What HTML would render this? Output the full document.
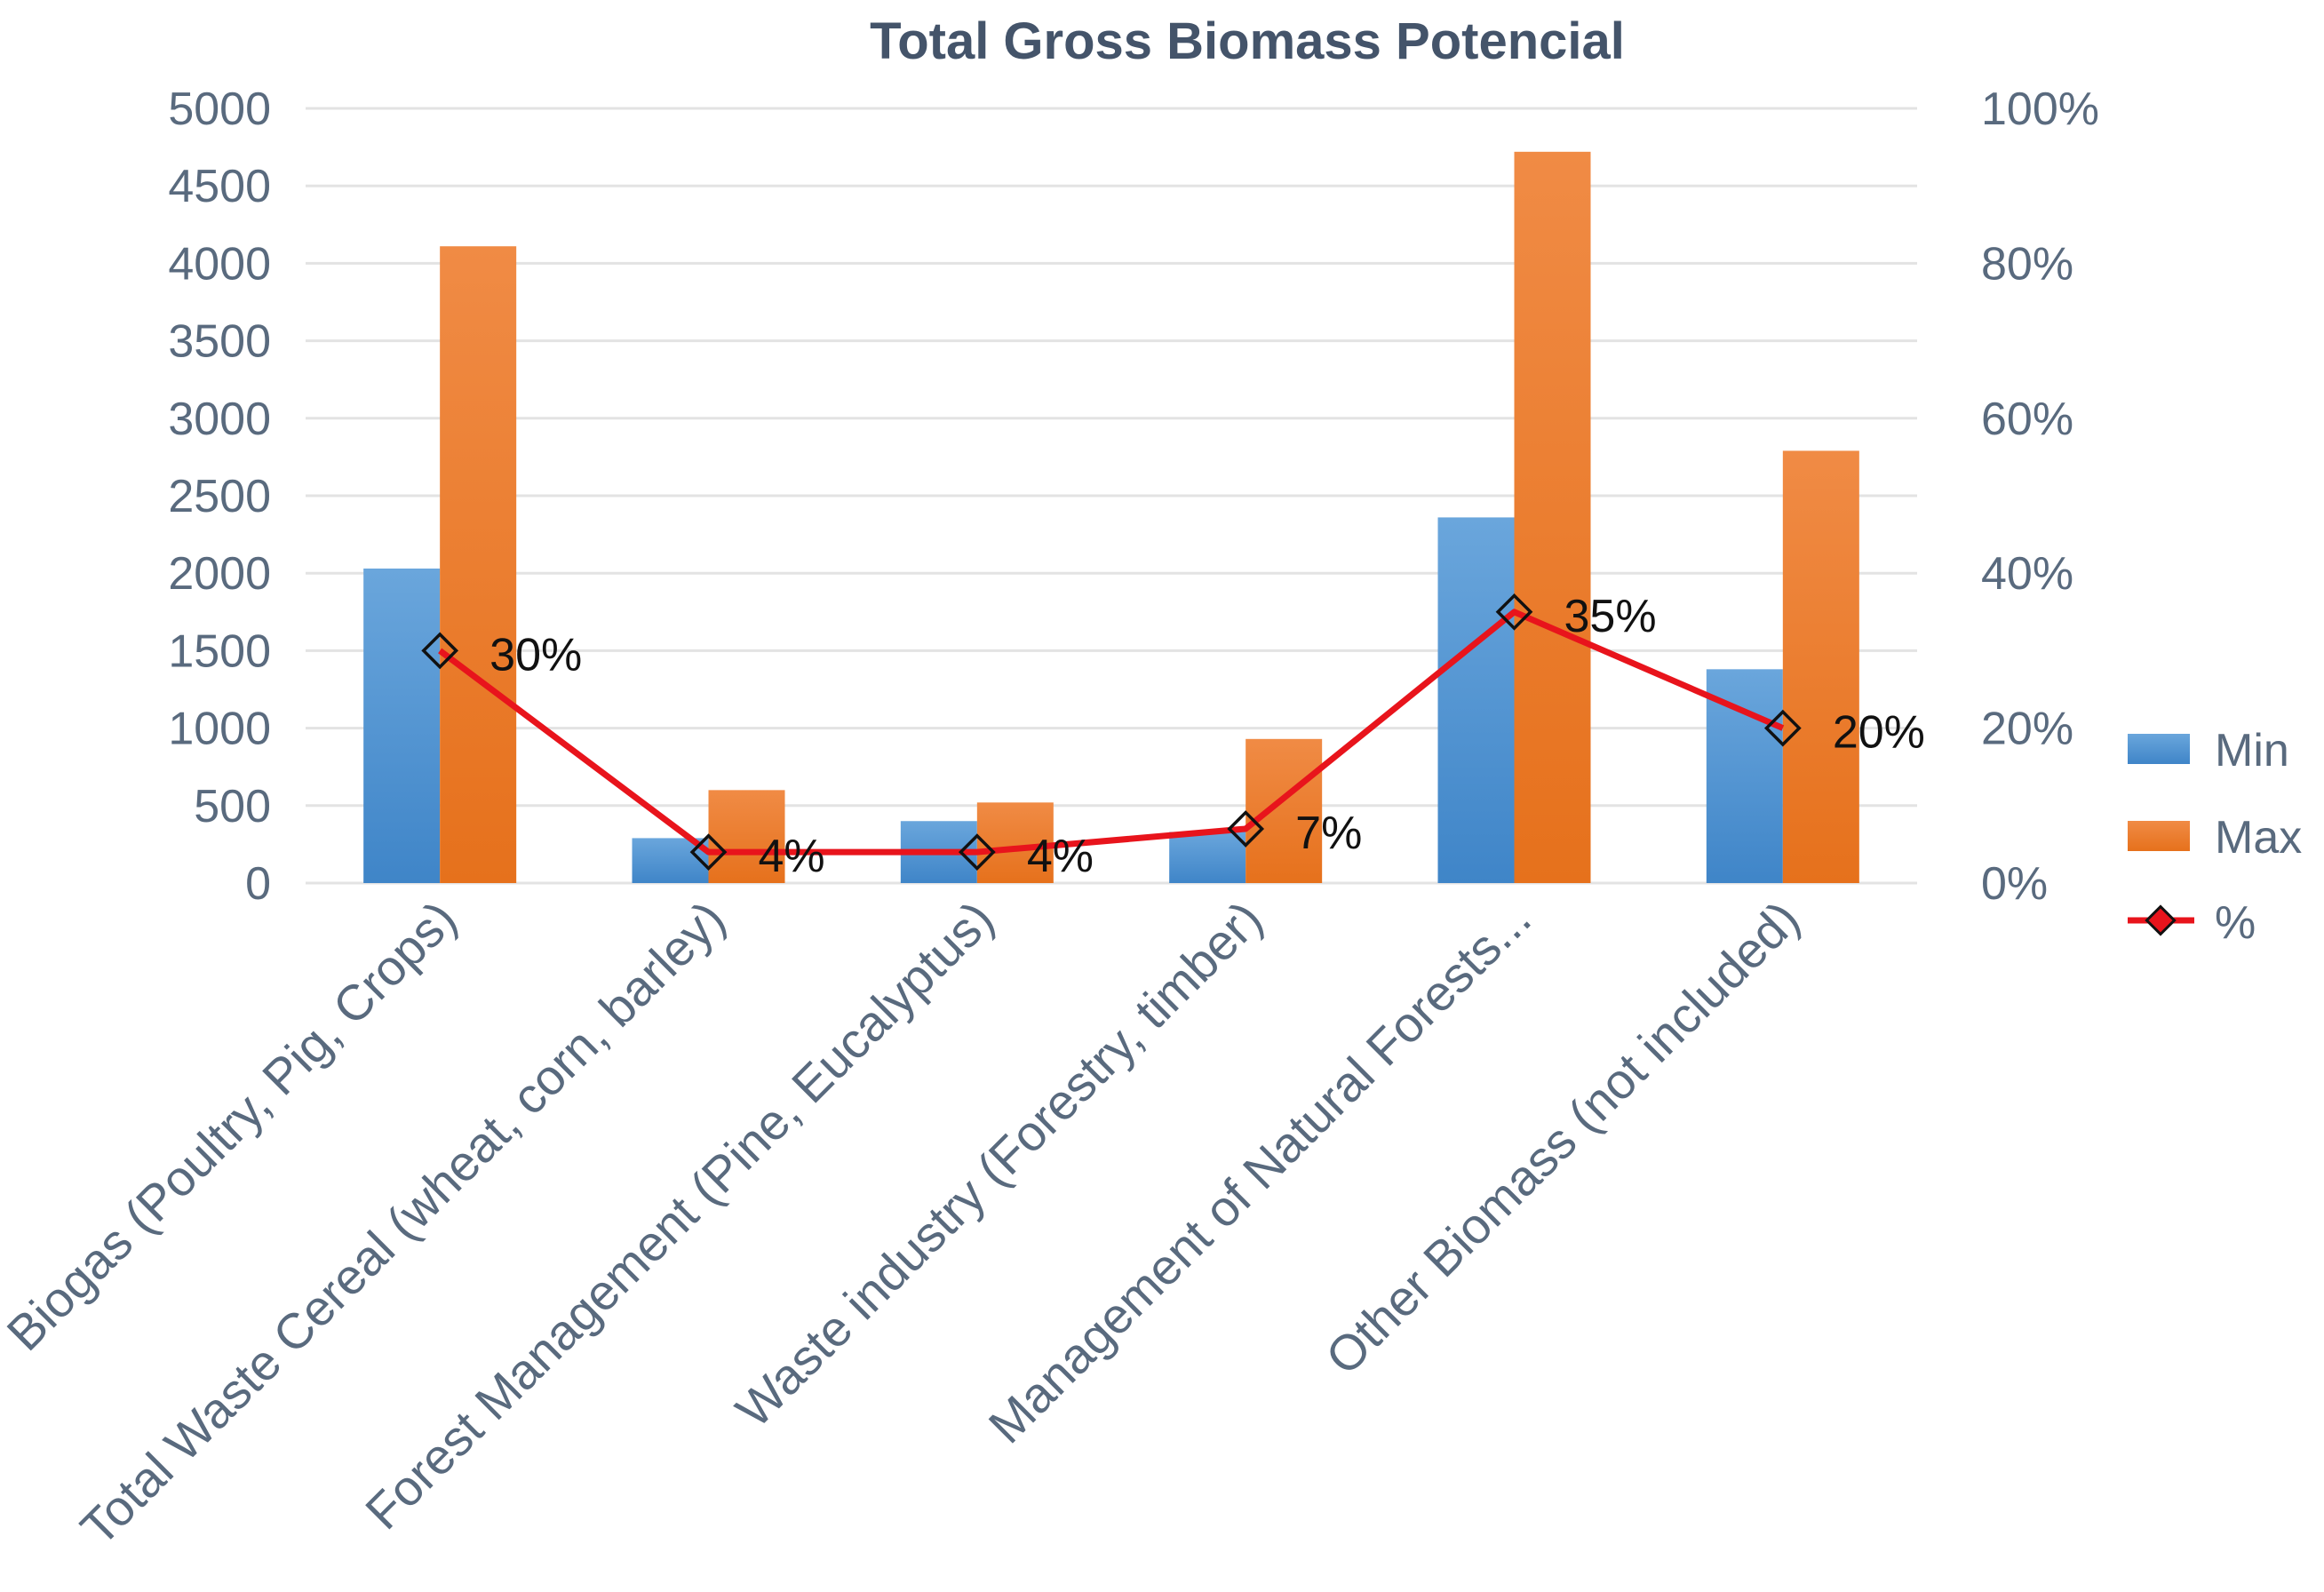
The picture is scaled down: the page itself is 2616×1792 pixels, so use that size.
<!DOCTYPE html>
<html><head><meta charset="utf-8"><style>
html,body{margin:0;padding:0;background:#fff;}
svg{display:block;font-family:"Liberation Sans",sans-serif;}
</style></head><body>
<svg id="chart" width="2616" height="1792" viewBox="0 0 2616 1792">
<defs>
<linearGradient id="gb" x1="0" y1="0" x2="0" y2="1"><stop offset="0" stop-color="#6aa6dc"/><stop offset="1" stop-color="#3f85c8"/></linearGradient>
<linearGradient id="go" x1="0" y1="0" x2="0" y2="1"><stop offset="0" stop-color="#f08b45"/><stop offset="1" stop-color="#e6711c"/></linearGradient>
</defs>
<text x="1404" y="66" text-anchor="middle" font-size="58" font-weight="bold" fill="#44546a">Total Gross Biomass Potencial</text>
<g id="grid"></g><g id="bars"></g><g id="line"></g><g id="labels"></g>
<g>
<rect x="2395" y="826" width="70" height="34" fill="url(#gb)"/>
<text x="2493" y="862" font-size="52" fill="#596a7e">Min</text>
<rect x="2395" y="924" width="70" height="34" fill="url(#go)"/>
<text x="2493" y="960" font-size="52" fill="#596a7e">Max</text>
<line x1="2395" y1="1036" x2="2470" y2="1036" stroke="#e8141c" stroke-width="7"/>
<rect x="2421" y="1025" width="22" height="22" transform="rotate(45 2432 1036)" fill="#e8141c" stroke="#111" stroke-width="3"/>
<text x="2493" y="1056" font-size="52" fill="#596a7e">%</text>
</g>
</svg>
<script>
const categories=["Biogas (Poultry, Pig, Crops)","Total Waste Cereal (wheat, corn, barley)","Forest Management (Pine, Eucalyptus)","Waste industry (Forestry, timber)","Management of Natural Forests...","Other Biomass (not included)"];
const minValues=[2030,290,400,330,2360,1380];
const maxValues=[4110,600,520,930,4720,2790];
const pctValues=[30,4,4,7,35,20];
const leftTicks=[0,500,1000,1500,2000,2500,3000,3500,4000,4500,5000];
const rightTicks=[0,20,40,60,80,100];
const NS="http://www.w3.org/2000/svg";
const L=344,R=2158,Y0=994,Y1=122;
const y=v=>Y0-(v/5000)*(Y0-Y1);
const yp=p=>Y0-(p/100)*(Y0-Y1);
const bw=(R-L)/categories.length;
const cx=i=>L+bw*(i+0.5);
function mk(t,a,parent){const e=document.createElementNS(NS,t);for(const k in a)e.setAttribute(k,a[k]);document.getElementById(parent).appendChild(e);return e;}
leftTicks.forEach(v=>{
 const l=mk("line",{x1:L,x2:R,y1:y(v),y2:y(v),stroke:"#e3e3e3","stroke-width":3},"grid");
 
 
 const t=mk("text",{x:305,y:y(v)+18,"text-anchor":"end","font-size":52,fill:"#596a7e"},"grid");t.textContent=v;
 
 
});
rightTicks.forEach(p=>{
 const t=mk("text",{x:2230,y:yp(p)+18,"font-size":52,fill:"#596a7e"},"grid");t.textContent=p+"%";
 
 
});
const barW=86;
categories.forEach((c,i)=>{
 const b1=mk("rect",{x:cx(i)-barW,y:y(minValues[i]),width:barW,height:Y0-y(minValues[i]),fill:"url(#gb)"},"bars");
 
 
 const b2=mk("rect",{x:cx(i),y:y(maxValues[i]),width:barW,height:Y0-y(maxValues[i]),fill:"url(#go)"},"bars");
 
 
 const t=mk("text",{x:0,y:0,"text-anchor":"end","font-size":56,fill:"#596a7e",transform:`translate(${cx(i)+22},${Y0+44}) rotate(-45)`},"labels");
 t.textContent=c;
 
 
});
const pl=mk("polyline",{points:pctValues.map((p,i)=>cx(i)+","+yp(p)).join(" "),fill:"none",stroke:"#e8141c","stroke-width":7,"stroke-linejoin":"round"},"line");


pctValues.forEach((p,i)=>{
 const m=mk("rect",{x:cx(i)-13,y:yp(p)-13,width:26,height:26,transform:`rotate(45 ${cx(i)} ${yp(p)})`,fill:"none",stroke:"#111","stroke-width":3.5},"line");
 
 
 const t=mk("text",{x:cx(i)+56,y:yp(p)+22,"font-size":52,fill:"#111"},"line");t.textContent=p+"%";
 
 
});
</script>
</body></html>
